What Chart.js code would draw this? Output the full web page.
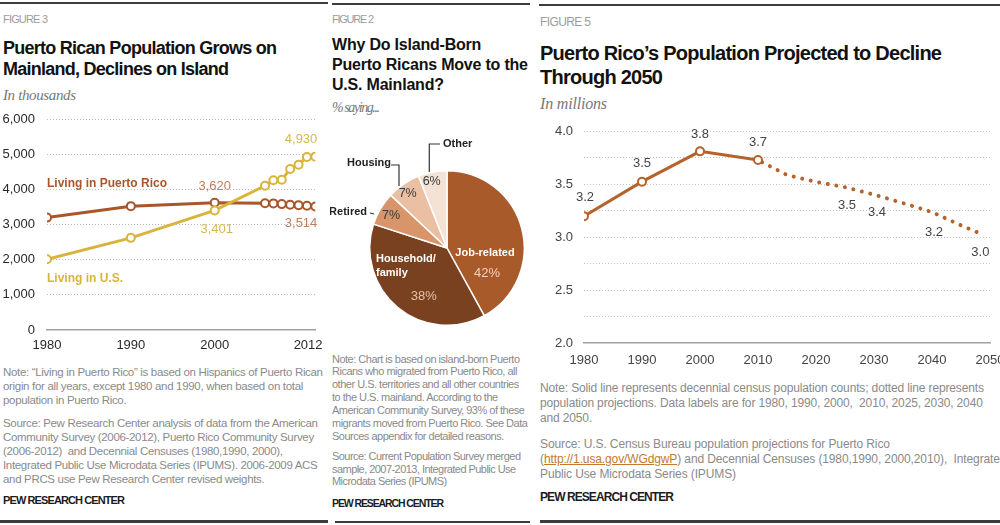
<!DOCTYPE html>
<html><head><meta charset="utf-8">
<script src="https://cdn.jsdelivr.net/npm/chart.js@4.4.1/dist/chart.umd.min.js"></script>
<style>
html,body{margin:0;padding:0;background:#fff;}
body{width:1000px;height:525px;position:relative;overflow:hidden;font-family:'Liberation Sans',Arial,sans-serif;}
.t{position:absolute;white-space:pre;}
.rule{position:absolute;background:#3c3c3c;}
canvas{position:absolute;}
.fig{color:#9c9c9c;}
.ttl{color:#121212;font-weight:bold;font-family:'Liberation Sans Narrow','Liberation Sans',Arial,sans-serif;}
.sub{color:#777;font-style:italic;font-family:'Liberation Serif',serif;}
.note{color:#8a8a8a;}
.pew{color:#1c1c1c;font-weight:bold;}
.lnk{color:#c27a30;text-decoration:underline;}
#clip1{position:absolute;left:0;top:0;width:323px;height:525px;overflow:hidden;}
</style></head>
<body>
<div class="rule" style="left:0;top:2px;width:328px;height:1.5px"></div>
<div class="rule" style="left:332px;top:3px;width:198px;height:1.5px"></div>
<div class="rule" style="left:539px;top:4px;width:461px;height:1.5px"></div>
<div class="rule" style="left:0;top:520px;width:328px;height:2.5px"></div>
<div class="rule" style="left:335px;top:521px;width:195px;height:2px"></div>
<div class="rule" style="left:540px;top:520px;width:460px;height:2.5px"></div>
<div id="clip1"><canvas id="c1" width="345" height="255" style="left:0;top:105px"></canvas></div>
<canvas id="c2" width="200" height="220" style="left:330px;top:130px"></canvas>
<canvas id="c3" width="500" height="265" style="left:530px;top:115px"></canvas>
<script>
// ---------------- DATA ----------------
// Figure 3: Puerto Rican population (thousands)
const p1Years = [1980, 1990, 2000, 2006, 2007, 2008, 2009, 2010, 2011, 2012];
const p1PuertoRico = [3196, 3522, 3620, 3605, 3600, 3580, 3560, 3550, 3535, 3514];
const p1US = [2014, 2620, 3401, 4100, 4260, 4270, 4580, 4700, 4920, 4930];
const p1XTicks = [1980, 1990, 2000, 2012];

// Figure 2: reasons for moving (%)
const p2Reasons = ['Job-related', 'Household/family', 'Retired', 'Housing', 'Other'];
const p2Shares = [42, 38, 7, 7, 6];

// Figure 5: Puerto Rico population (millions)
const p3CensusYears = [1980, 1990, 2000, 2010];
const p3Census = [3.196, 3.522, 3.808, 3.726];
const p3ProjYears = [2010, 2015, 2020, 2025, 2030, 2035, 2040, 2045, 2048];
const p3Proj = [3.726, 3.585, 3.52, 3.47, 3.40, 3.32, 3.235, 3.11, 3.04];
const p3XTicks = [1980, 1990, 2000, 2010, 2020, 2030, 2040, 2050];

// ---------------- TEXT ----------------
const textBlocks = [
  {x:3, y:19, lh:14, cls:'fig', fs:11, w:45, lines:['FIGURE 3']},
  {x:3, y:48.3, lh:21, cls:'ttl', fs:18, w:274, lines:['Puerto Rican Population Grows on','Mainland, Declines on Island']},
  {x:3, y:95, lh:16, cls:'sub', fs:15, w:73, lines:['In thousands']},
  {x:3, y:371.7, lh:14.2, cls:'note', fs:11.5, w:320, lines:[
    'Note: \u201cLiving in Puerto Rico\u201d is based on Hispanics of Puerto Rican',
    'origin for all years, except 1980 and 1990, when based on total',
    'population in Puerto Rico.']},
  {x:3, y:423.3, lh:14, cls:'note', fs:11.5, w:315, lines:[
    'Source: Pew Research Center analysis of data from the American',
    'Community Survey (2006-2012), Puerto Rico Community Survey',
    '(2006-2012)  and Decennial Censuses (1980,1990, 2000),',
    'Integrated Public Use Microdata Series (IPUMS). 2006-2009 ACS',
    'and PRCS use Pew Research Center revised weights.']},
  {x:3, y:500, lh:14, cls:'pew', fs:11, w:122, lines:['PEW RESEARCH CENTER']},

  {x:332, y:19, lh:14, cls:'fig', fs:11, w:42, lines:['FIGURE 2']},
  {x:332, y:45, lh:20, cls:'ttl', fs:16, w:196, ref:1, lines:['Why Do Island-Born','Puerto Ricans Move to the','U.S. Mainland?']},
  {x:332, y:108, lh:16, cls:'sub', fs:14, w:48, lines:['% saying...']},
  {x:332, y:359, lh:12.9, cls:'note', fs:11, w:188, lines:[
    'Note: Chart is based on island-born Puerto',
    'Ricans who migrated from Puerto Rico, all',
    'other U.S. territories and all other countries',
    'to the U.S. mainland. According to the',
    'American Community Survey, 93% of these',
    'migrants moved from Puerto Rico. See Data',
    'Sources appendix for detailed reasons.']},
  {x:332, y:456.7, lh:12.5, cls:'note', fs:11, w:189, lines:[
    'Source: Current Population Survey merged',
    'sample, 2007-2013, Integrated Public Use',
    'Microdata Series (IPUMS)']},
  {x:332, y:502.7, lh:14, cls:'pew', fs:10.5, w:112, lines:['PEW RESEARCH CENTER']},

  {x:540, y:22.3, lh:14, cls:'fig', fs:12, w:51, lines:['FIGURE 5']},
  {x:540, y:53.3, lh:24, cls:'ttl', fs:20, w:402, lines:['Puerto Rico\u2019s Population Projected to Decline','Through 2050']},
  {x:540, y:104, lh:16, cls:'sub', fs:16, w:67, lines:['In millions']},
  {x:540, y:388.3, lh:15, cls:'note', fs:12, w:444, lines:[
    'Note: Solid line represents decennial census population counts; dotted line represents',
    'population projections. Data labels are for 1980, 1990, 2000,  2010, 2025, 2030, 2040',
    'and 2050.']},
  {x:540, y:444, lh:15, cls:'note', fs:12, w:350, lines:[
    'Source: U.S. Census Bureau population projections for Puerto Rico',
    '(<span class="lnk">http://1.usa.gov/WGdgwP</span>) and Decennial Censuses (1980,1990, 2000,2010),  Integrated',
    'Public Use Microdata Series (IPUMS)']},
  {x:540, y:496.7, lh:14, cls:'pew', fs:12, w:134, lines:['PEW RESEARCH CENTER']}
];

function makeBlock(b){
  const d = document.createElement('div');
  d.className = 't ' + b.cls;
  d.style.left = b.x + 'px';
  d.style.top = (b.y - b.lh/2) + 'px';
  d.style.fontSize = b.fs + 'px';
  d.style.lineHeight = b.lh + 'px';
  document.body.appendChild(d);
  const probe = document.createElement('span');
  probe.innerHTML = b.lines[b.ref || 0];
  d.appendChild(probe);
  const nat = probe.getBoundingClientRect().width;
  const n = probe.textContent.length;
  const ls = (b.w - nat) / Math.max(1, n - 1);
  d.innerHTML = b.lines.join('<br>');
  d.style.letterSpacing = ls.toFixed(3) + 'px';
}
textBlocks.forEach(makeBlock);

// ---------------- CHARTS ----------------
Chart.defaults.font.family = "'Liberation Sans', Arial, sans-serif";
const CLEAR = 'rgba(0,0,0,0)';
const PR = '#a8562a', GOLD = '#d8b43a', BROWN3 = '#b5622b';

const labelPlugin = {
  id: 'vlabels',
  afterDatasetsDraw(chart, args, opts){
    const ctx = chart.ctx;
    (opts.lines || []).forEach(L => {
      const el = chart.getDatasetMeta(L.ds).data[L.i];
      ctx.save();
      ctx.strokeStyle = L.color; ctx.lineWidth = L.width || 1;
      ctx.beginPath();
      L.pts.forEach((p, k) => { const X = el.x + p[0], Y = el.y + p[1]; k ? ctx.lineTo(X, Y) : ctx.moveTo(X, Y); });
      ctx.stroke(); ctx.restore();
    });
    (opts.items || []).forEach(it => {
      const el = chart.getDatasetMeta(it.ds).data[it.i];
      ctx.save();
      ctx.font = it.font; ctx.fillStyle = it.color;
      ctx.textAlign = it.align || 'center'; ctx.textBaseline = 'middle';
      ctx.fillText(it.text, el.x + (it.dx || 0), el.y + (it.dy || 0));
      ctx.restore();
    });
  }
};

const fixY = w => s => { s.width = w; s.paddingTop = 0; s.paddingBottom = 0; };

// Figure 3
new Chart(document.getElementById('c1'), {
  type: 'line',
  data: { datasets: [
    { label: 'Living in U.S.', data: p1Years.map((x, i) => ({x, y: p1US[i]})),
      borderColor: GOLD, borderWidth: 3, pointRadius: 4, pointBorderWidth: 2,
      pointBackgroundColor: '#fff', pointBorderColor: GOLD, tension: 0 },
    { label: 'Living in Puerto Rico', data: p1Years.map((x, i) => ({x, y: p1PuertoRico[i]})),
      borderColor: PR, borderWidth: 3, pointRadius: 4, pointBorderWidth: 2,
      pointBackgroundColor: '#fff', pointBorderColor: PR, tension: 0 }
  ]},
  options: {
    responsive: false, animation: false, events: [],
    layout: { padding: { top: 14, right: 29, left: 0, bottom: 0 } },
    plugins: {
      legend: { display: false }, tooltip: { enabled: false },
      vlabels: { items: [
        { ds: 1, i: 0, text: 'Living in Puerto Rico', dx: 0, dy: -34, align: 'left', font: 'bold 12px "Liberation Sans", Arial', color: PR },
        { ds: 0, i: 0, text: 'Living in U.S.', dx: 0, dy: 20, align: 'left', font: 'bold 12px "Liberation Sans", Arial', color: GOLD },
        { ds: 1, i: 2, text: '3,620', dx: 0, dy: -16, font: '13px "Liberation Sans", Arial', color: '#bf7d58' },
        { ds: 0, i: 2, text: '3,401', dx: 2, dy: 19, font: '13px "Liberation Sans", Arial', color: '#d6b850' },
        { ds: 1, i: 9, text: '3,514', dx: 2, dy: 17, align: 'right', font: '13px "Liberation Sans", Arial', color: '#bf7d58' },
        { ds: 0, i: 9, text: '4,930', dx: 2, dy: -17, align: 'right', font: '13px "Liberation Sans", Arial', color: '#d6b850' }
      ]}
    },
    scales: {
      x: { type: 'linear', min: 1980, max: 2012,
        afterBuildTicks: s => { s.ticks = p1XTicks.map(v => ({value: v})); },
        afterFit: s => { s.height = 30; },
        grid: { display: false, drawTicks: false },
        border: { display: true, color: '#a0a0a0', width: 1.5 },
        ticks: { padding: 8, font: { size: 13 }, color: '#2a2a2a', autoSkip: false, maxRotation: 0,
          callback: v => v === 2012 ? '2012    ' : String(v) } },
      y: { min: 0, max: 6000,
        afterFit: fixY(47),
        ticks: { stepSize: 1000, padding: 12, font: { size: 13 }, color: '#2a2a2a', callback: v => v.toLocaleString('en-US') },
        grid: { drawTicks: false, lineWidth: 1, borderDash: [1, 2], color: c => (c.tick && c.tick.value === 0) ? CLEAR : '#bdbdbd' },
        border: { display: false, dash: [1, 2] } }
    }
  },
  plugins: [labelPlugin]
});

// Figure 2
const labFont = 'bold 11px "Liberation Sans", Arial';
new Chart(document.getElementById('c2'), {
  type: 'pie',
  data: { labels: p2Reasons, datasets: [{ data: p2Shares,
    backgroundColor: ['#a85a2a', '#7a4120', '#d9956a', '#eabfa2', '#f4e2d5'],
    borderColor: '#fff', borderWidth: 1.5 }] },
  options: {
    responsive: false, animation: false, events: [],
    layout: { padding: { left: 39, right: 5, top: 40, bottom: 24 } },
    plugins: {
      legend: { display: false }, tooltip: { enabled: false },
      vlabels: {
        lines: [
          { ds: 0, i: 2, color: '#333', width: 1.2, pts: [[-77, -35], [-73, -34]] },
          { ds: 0, i: 3, color: '#333', width: 1.2, pts: [[-56, -83], [-48, -83], [-48, -62]] },
          { ds: 0, i: 4, color: '#333', width: 1.2, pts: [[-7, -104], [-17.7, -104], [-17.7, -76]] }
        ],
        items: [
          { ds: 0, i: 0, text: 'Job-related', dx: 38, dy: 5.3, font: labFont, color: '#fff' },
          { ds: 0, i: 0, text: '42%', dx: 40, dy: 25.3, font: '13px "Liberation Sans", Arial', color: '#f3d3bd' },
          { ds: 0, i: 1, text: 'Household/', dx: -71, dy: 11.3, align: 'left', font: labFont, color: '#fff' },
          { ds: 0, i: 1, text: 'family', dx: -71, dy: 25.3, align: 'left', font: labFont, color: '#fff' },
          { ds: 0, i: 1, text: '38%', dx: -23.3, dy: 48.7, font: '13px "Liberation Sans", Arial', color: '#e6c2aa' },
          { ds: 0, i: 2, text: '7%', dx: -56, dy: -32.3, font: '12.5px "Liberation Sans", Arial', color: '#3a3a3a' },
          { ds: 0, i: 3, text: '7%', dx: -39.3, dy: -54.7, font: '12.5px "Liberation Sans", Arial', color: '#3a3a3a' },
          { ds: 0, i: 4, text: '6%', dx: -15.3, dy: -66.3, font: '12.5px "Liberation Sans", Arial', color: '#3a3a3a' },
          { ds: 0, i: 2, text: 'Retired', dx: -80, dy: -36, align: 'right', font: labFont, color: '#222' },
          { ds: 0, i: 3, text: 'Housing', dx: -56, dy: -84.7, align: 'right', font: labFont, color: '#222' },
          { ds: 0, i: 4, text: 'Other', dx: -4, dy: -103.7, align: 'left', font: labFont, color: '#222' }
        ]
      }
    }
  },
  plugins: [labelPlugin]
});

// Figure 5
const numFont = '13px "Liberation Sans", Arial';
new Chart(document.getElementById('c3'), {
  type: 'line',
  data: { datasets: [
    { label: 'Census', data: p3CensusYears.map((x, i) => ({x, y: p3Census[i]})),
      borderColor: BROWN3, borderWidth: 3, pointRadius: 4, pointBorderWidth: 2,
      pointBackgroundColor: '#fff', pointBorderColor: BROWN3, tension: 0 },
    { label: 'Projection', data: p3ProjYears.map((x, i) => ({x, y: p3Proj[i]})),
      borderColor: BROWN3, borderWidth: 4, borderDash: [0.01, 8.7], borderDashOffset: 4, borderCapStyle: 'round',
      pointRadius: 0, tension: 0 }
  ]},
  options: {
    responsive: false, animation: false, events: [],
    layout: { padding: { top: 16, right: 40, left: 0, bottom: 0 } },
    plugins: {
      legend: { display: false }, tooltip: { enabled: false },
      vlabels: { items: [
        { ds: 0, i: 0, text: '3.2', dx: 1, dy: -19, font: numFont, color: '#444' },
        { ds: 0, i: 1, text: '3.5', dx: 0, dy: -18, font: numFont, color: '#444' },
        { ds: 0, i: 2, text: '3.8', dx: 0, dy: -17, font: numFont, color: '#444' },
        { ds: 0, i: 3, text: '3.7', dx: 0, dy: -17.5, font: numFont, color: '#444' },
        { ds: 1, i: 3, text: '3.5', dx: 2, dy: 18.6, font: numFont, color: '#444' },
        { ds: 1, i: 4, text: '3.4', dx: 3, dy: 18, font: numFont, color: '#444' },
        { ds: 1, i: 6, text: '3.2', dx: 2, dy: 20, font: numFont, color: '#444' },
        { ds: 1, i: 8, text: '3.0', dx: 2, dy: 20, font: numFont, color: '#444' }
      ]}
    },
    scales: {
      x: { type: 'linear', min: 1980, max: 2050,
        afterBuildTicks: s => { s.ticks = p3XTicks.map(v => ({value: v})); },
        afterFit: s => { s.height = 37; },
        grid: { display: false, drawTicks: false },
        border: { display: true, color: '#a0a0a0', width: 1.5 },
        ticks: { padding: 10, font: { size: 13 }, color: '#444', autoSkip: false, maxRotation: 0, callback: v => String(v) } },
      y: { min: 2, max: 4,
        afterFit: fixY(54),
        ticks: { stepSize: 0.25, padding: 11, font: { size: 13 }, color: '#444', autoSkip: false,
          callback: v => (Math.abs(v * 2 - Math.round(v * 2)) < 1e-6) ? v.toFixed(1) : '' },
        grid: { drawTicks: false, lineWidth: 1, borderDash: [1, 2], color: c => (c.tick && Math.abs(c.tick.value - 2) < 1e-6) ? CLEAR : '#c4c4c4' },
        border: { display: false, dash: [1, 2] } }
    }
  },
  plugins: [labelPlugin]
});
</script>
</body></html>
